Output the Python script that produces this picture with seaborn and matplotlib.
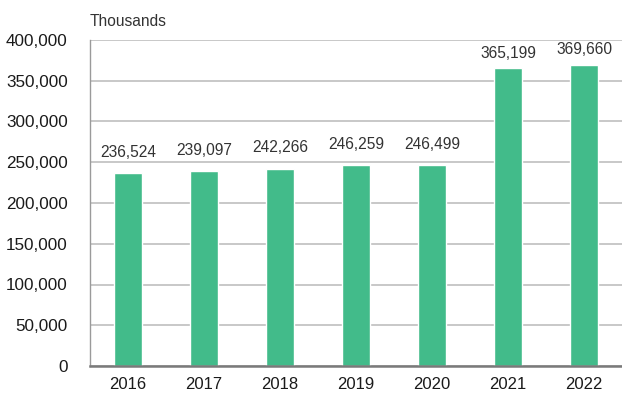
import matplotlib
matplotlib.use("Agg")
import matplotlib.pyplot as plt
import matplotlib.ticker as mticker
import seaborn as sns
import pandas as pd

years = ["2016", "2017", "2018", "2019", "2020", "2021", "2022"]
values = [236524, 239097, 242266, 246259, 246499, 365199, 369660]
y_ticks = [0, 50000, 100000, 150000, 200000, 250000, 300000, 350000, 400000]
unit_label = "Thousands"

sns.set_theme(style="white")
plt.rcParams["font.family"] = ["Liberation Sans", "DejaVu Sans"]

df = pd.DataFrame({"year": years, "value": values})

fig = plt.figure(figsize=(6.22, 3.94), dpi=100)
ax = fig.add_axes([90 / 622, 28 / 394, 532 / 622, 326 / 394])

sns.barplot(data=df, x="year", y="value", color="#42BB8A", width=0.37,
            saturation=1, ax=ax, zorder=3)

ax.set_ylim(0, 400000)
ax.set_xlim(-0.5, len(years) - 0.5)
ax.set_yticks(y_ticks)
ax.yaxis.set_major_formatter(mticker.FuncFormatter(lambda v, p: f"{int(v):,}"))
ax.grid(axis="y", color="#c4c4c4", linewidth=1.3, zorder=0)
ax.grid(axis="x", visible=False)
ax.set_xlabel("")
ax.set_ylabel("")

ax.tick_params(axis="y", length=0, pad=16, labelsize=12.3, labelcolor="#1a1a1a")
ax.tick_params(axis="x", which="major", length=0, pad=8, labelsize=12,
               labelcolor="#1a1a1a")
ax.set_xticks([i - 0.5 for i in range(1, len(years))], minor=True)
ax.tick_params(axis="x", which="minor", direction="in", length=3.5,
               width=1, color="#888888")

for side in ["top", "right"]:
    ax.spines[side].set_visible(False)
ax.spines["left"].set_color("#9a9a9a")
ax.spines["left"].set_linewidth(1.0)
ax.spines["bottom"].set_color("#7a7a7a")
ax.spines["bottom"].set_linewidth(1.8)
ax.spines["bottom"].set_zorder(4)

# value labels sit a little closer to the bar when near the top of the axes
for i, v in enumerate(values):
    offset = 9.5 if v < 300000 else 5.5
    ax.annotate(f"{v:,}", (i, v), xytext=(0, offset), textcoords="offset points",
                ha="center", va="bottom", fontsize=11.2, color="#333333")

fig.text(90 / 622, 1 - 22 / 394, unit_label, ha="left", va="center",
         fontsize=11.2, color="#333333")

fig.savefig("out.png", dpi=100)
